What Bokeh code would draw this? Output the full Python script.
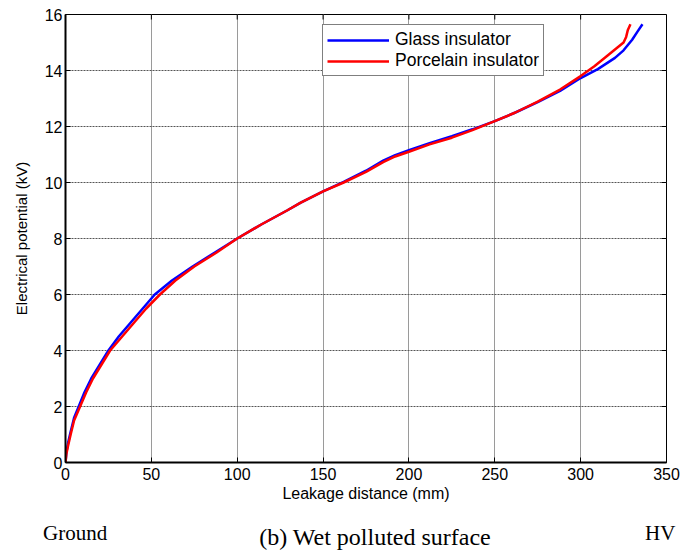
from bokeh.plotting import figure
from bokeh.models import Legend, LegendItem, FixedTicker, Range1d, Div
from bokeh.layouts import column
from bokeh.embed import file_html
from bokeh.resources import INLINE

# Data
glass_x = [0, 0.5, 1.5, 3, 5, 8, 11, 15, 20, 25, 31, 38, 45, 52, 62, 74, 87, 100, 114, 129,
           137, 150, 162, 175, 185, 192, 200, 212, 225, 237, 250, 262, 275, 288, 300, 310, 320,
           325, 330, 333, 336]
glass_y = [0, 0.35, 0.7, 1.1, 1.6, 2.05, 2.5, 3.0, 3.5, 4.0, 4.5, 5.0, 5.5, 6.0, 6.5, 7.0, 7.5,
           8.0, 8.5, 9.0, 9.28, 9.68, 10.02, 10.42, 10.78, 10.98, 11.15, 11.4, 11.65, 11.9, 12.19,
           12.5, 12.87, 13.27, 13.73, 14.05, 14.45, 14.72, 15.1, 15.38, 15.65]

porc_x = [0, 0.5, 1.5, 3, 5, 8.5, 12, 16, 21, 26, 33, 40, 47, 55, 64, 75, 88, 100, 114, 129,
          137, 150, 162, 175, 185, 192, 200, 212, 225, 237, 250, 262, 275, 288, 300, 308, 315,
          320, 325, 326.5, 327.5, 329]
porc_y = [0, 0.3, 0.6, 1.0, 1.5, 2.0, 2.5, 3.0, 3.5, 4.0, 4.5, 5.0, 5.5, 6.0, 6.5, 7.0, 7.5,
          8.0, 8.5, 9.0, 9.28, 9.68, 10.0, 10.38, 10.73, 10.93, 11.1, 11.36, 11.6, 11.87, 12.19,
          12.5, 12.89, 13.32, 13.8, 14.15, 14.5, 14.75, 15.0, 15.2, 15.45, 15.65]

x_ticks = [0, 50, 100, 150, 200, 250, 300, 350]
y_ticks = [0, 2, 4, 6, 8, 10, 12, 14, 16]
series_names = ["Glass insulator", "Porcelain insulator"]
caption_left = "Ground"
caption_mid = "(b) Wet polluted surface"
caption_right = "HV"

X_MAX = 350
Y_MAX = 16

p = figure(width=680, height=510, output_backend="svg", toolbar_location=None,
           x_range=Range1d(0, X_MAX), y_range=Range1d(0, Y_MAX),
           min_border_left=65, min_border_right=14, min_border_top=14, min_border_bottom=48)
p.background_fill_color = "white"
p.border_fill_color = "white"
p.outline_line_color = "black"
p.outline_line_width = 1

ax = p.xaxis[0]
ay = p.yaxis[0]
for a, t in ((ax, x_ticks), (ay, y_ticks)):
    a.ticker = FixedTicker(ticks=t)
    a.major_tick_in = 5
    a.major_tick_out = 0
    a.minor_tick_in = 0
    a.minor_tick_out = 0
    a.axis_line_color = "black"
    a.axis_line_width = 2
    a.major_tick_line_color = "black"
    a.major_label_text_font = "Liberation Sans"
    a.major_label_text_font_size = "16px"
    a.major_label_text_color = "black"
    a.axis_label_text_font = "Liberation Sans"
    a.axis_label_text_font_style = "normal"
    a.axis_label_text_color = "black"
ax.axis_label = "Leakage distance (mm)"
ax.axis_label_text_font_size = "16px"
ax.axis_label_standoff = 2
ax.major_label_standoff = 5
ay.axis_label = "Electrical potential (kV)"
ay.axis_label_text_font_size = "15px"
ay.axis_label_standoff = 12
ay.major_label_standoff = 3

p.xgrid.ticker = FixedTicker(ticks=x_ticks)
p.ygrid.ticker = FixedTicker(ticks=y_ticks)
p.xgrid.grid_line_color = "#9a9a9a"
p.xgrid.grid_line_width = 1
p.ygrid.grid_line_color = "#555555"
p.ygrid.grid_line_dash = "2 1"
p.ygrid.grid_line_width = 1

# inward ticks on the top and right sides of the box (derived from the tick lists)
tick_dx = 5 * X_MAX / 601.0
tick_dy = 5 * Y_MAX / 448.0
p.segment(x0=x_ticks, y0=[Y_MAX] * len(x_ticks), x1=x_ticks,
          y1=[Y_MAX - tick_dy] * len(x_ticks), line_color="black", line_width=1)
p.segment(x0=[X_MAX] * len(y_ticks), y0=y_ticks, x1=[X_MAX - tick_dx] * len(y_ticks),
          y1=y_ticks, line_color="black", line_width=1)

r_g = p.line(glass_x, glass_y, line_color="#0000ff", line_width=2.5)
r_p = p.line(porc_x, porc_y, line_color="#ff0000", line_width=2.5)

legend = Legend(items=[LegendItem(label=series_names[0], renderers=[r_g]),
                       LegendItem(label=series_names[1], renderers=[r_p])],
                location=(257, 386), orientation="vertical",
                label_text_font="Liberation Sans", label_text_font_size="17.5px",
                label_text_color="black", glyph_width=62, glyph_height=18,
                label_height=18, spacing=0, padding=4, margin=0, label_standoff=6,
                border_line_color="black", border_line_width=1,
                background_fill_color="white", background_fill_alpha=1)
p.add_layout(legend, "center")

# caption strip below the chart (HTML text)
span = ('<span style="position:absolute;left:{l}px;top:{t}px;font-size:{s}px;'
        'line-height:1;white-space:nowrap;{extra}">{txt}</span>')
html = ('<div style="position:relative;width:680px;height:40px;overflow:hidden;'
        'font-family:\'Liberation Serif\',serif;color:black;background:white;">'
        + span.format(l=43, t=13, s=21, extra="", txt=caption_left)
        + span.format(l=645, t=13, s=21, extra="", txt=caption_right)
        + span.format(l=375, t=15, s=24, extra="transform:translateX(-50%);", txt=caption_mid)
        + '</div>')
cap = Div(text=html, width=680, height=40, margin=0)

layout = column(p, cap, spacing=0)
open("out.html", "w").write(file_html(layout, INLINE))
